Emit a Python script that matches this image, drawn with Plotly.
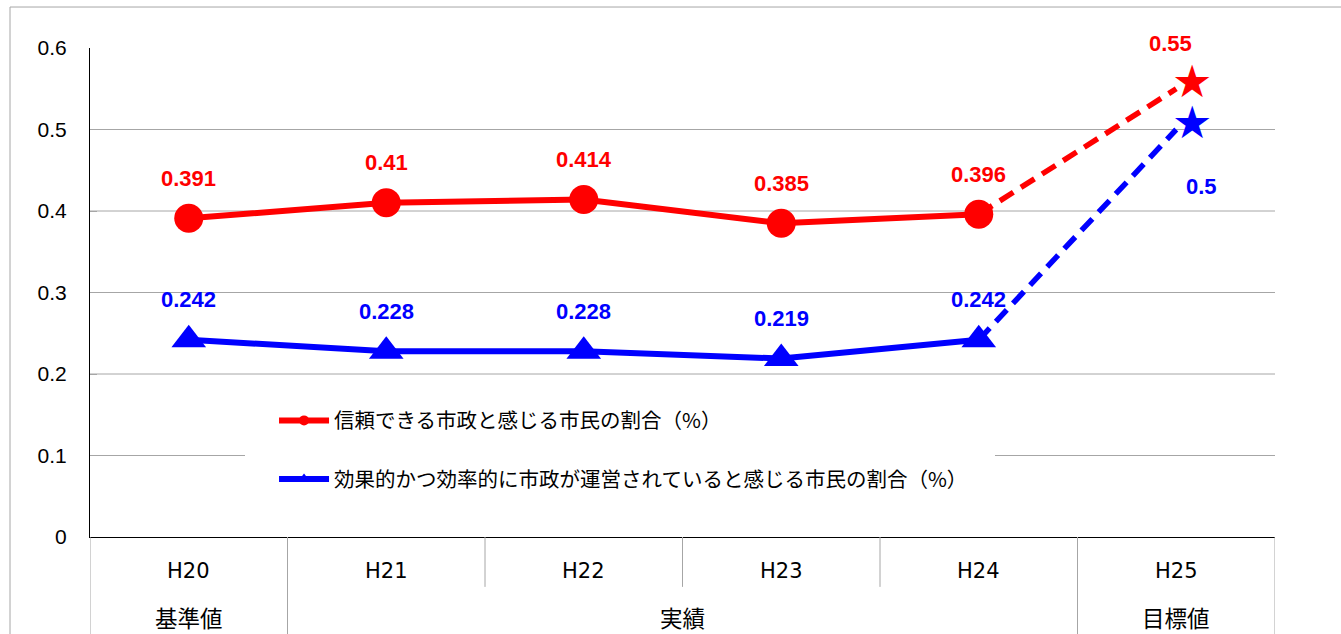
import plotly.graph_objects as go

# ---- data ----
years = ["H20", "H21", "H22", "H23", "H24", "H25"]
phase_labels = ["基準値", "実績", "目標値"]
phase_spans = [(0, 0), (1, 4), (5, 5)]
trust_name = "信頼できる市政と感じる市民の割合（%）"
trust_actual = [0.391, 0.41, 0.414, 0.385, 0.396]
trust_target = 0.55
eff_name = "効果的かつ効率的に市政が運営されていると感じる市民の割合（%）"
eff_actual = [0.242, 0.228, 0.228, 0.219, 0.242]
eff_target = 0.5
y_ticks = [0, 0.1, 0.2, 0.3, 0.4, 0.5, 0.6]

RED = "#FF0000"
BLUE = "#0000FF"
GRID = "#a6a6a6"
LAT = "Liberation Sans, Arial, sans-serif"
WIDE = "DejaVu Sans, sans-serif"
CJK = "Noto Sans CJK JP, sans-serif"

xi = list(range(len(years)))
n_act = len(trust_actual)

fig = go.Figure()

# dashed target segments (drawn first so the last circle/triangle sits on top)
for actual, target, color in [(eff_actual, eff_target, BLUE), (trust_actual, trust_target, RED)]:
    fig.add_trace(go.Scatter(
        x=[xi[n_act - 1], xi[n_act]], y=[actual[-1], target],
        mode="lines",
        line=dict(color=color, width=5.5, dash="16px,9px"),
        showlegend=False, hoverinfo="skip",
    ))

# actual values
fig.add_trace(go.Scatter(
    x=xi[:n_act], y=eff_actual, mode="lines+markers",
    line=dict(color=BLUE, width=6),
    marker=dict(symbol="triangle-up", size=30, color=BLUE, opacity=1),
    showlegend=False,
))
fig.add_trace(go.Scatter(
    x=xi[:n_act], y=trust_actual, mode="lines+markers",
    line=dict(color=RED, width=6),
    marker=dict(symbol="circle", size=29, color=RED, opacity=1),
    showlegend=False,
))

# legend entries
fig.add_trace(go.Scatter(
    x=[None], y=[None], mode="lines+markers", name=trust_name, legendgroup="a",
    line=dict(color=RED, width=6), marker=dict(symbol="circle", size=10, color=RED),
))
fig.add_trace(go.Scatter(
    x=[None], y=[None], mode="lines+markers", name=eff_name, legendgroup="b",
    line=dict(color=BLUE, width=6), marker=dict(symbol="triangle-up", size=11, color=BLUE),
))

annotations = []
# target star markers (drawn offset up-right of the value, as in the source chart)
for target, color in [(trust_target, RED), (eff_target, BLUE)]:
    annotations.append(dict(
        x=xi[n_act], y=target, xref="x", yref="y", text="★", showarrow=False,
        xanchor="center", yanchor="middle", xshift=16, yshift=8, height=40,
        font=dict(family="DejaVu Sans", size=45, color=color),
    ))
# data labels
for series, target, color, tshift in [
    (trust_actual, trust_target, RED, (-6, 45)),
    (eff_actual, eff_target, BLUE, (25, -57)),
]:
    vals = series + [target]
    for i, v in enumerate(vals):
        dx, dy = (tshift if i == n_act else (0, 40))
        annotations.append(dict(
            x=xi[i], y=v, xref="x", yref="y", text=f"{v:g}", showarrow=False,
            yanchor="middle", xshift=dx, yshift=dy,
            font=dict(family=LAT, size=22, color=color, weight="bold"),
        ))
# category labels
for i, yr in enumerate(years):
    annotations.append(dict(
        x=xi[i], y=0, xref="x", yref="paper", text=yr, showarrow=False,
        yanchor="middle", yshift=-34, font=dict(family=WIDE, size=21, color="black"),
    ))
for lab, (a, b) in zip(phase_labels, phase_spans):
    annotations.append(dict(
        x=(a + b) / 2, y=0, xref="x", yref="paper", text=lab, showarrow=False,
        yanchor="middle", yshift=-80, font=dict(family=CJK, size=22.5, color="black"),
    ))

shapes = []
# outer border
shapes.append(dict(type="rect", xref="paper", yref="paper", x0=-0.0675, x1=1.5,
                   y0=-0.5, y1=1.0838, line=dict(color=GRID, width=1), layer="below"))
# gridlines
for t in y_ticks[1:-1]:
    shapes.append(dict(type="line", xref="paper", yref="y", x0=0, x1=1, y0=t, y1=t,
                       line=dict(color=GRID, width=1), layer="below"))
# white legend backdrop
shapes.append(dict(type="rect", xref="paper", yref="paper", x0=0.1308, x1=0.7637,
                   y0=0.0757, y1=0.2945, fillcolor="white", line=dict(width=0),
                   layer="below"))
# category separators below axis
for k in range(len(years) + 1):
    xb = k - 0.5
    full = k in (0, 1, len(years) - 1, len(years))
    shapes.append(dict(type="line", xref="x", yref="paper", x0=xb, x1=xb,
                       y0=0, y1=(-0.2 if full else -0.102),
                       line=dict(color=GRID, width=1)))

fig.update_layout(
    width=1341, height=634,
    margin=dict(l=90, r=66, t=48, b=97),
    paper_bgcolor="white", plot_bgcolor="white",
    xaxis=dict(range=[-0.5, len(years) - 0.5], showgrid=False, zeroline=False,
               showticklabels=False, ticks="", showline=True, linecolor="black",
               linewidth=1, fixedrange=True),
    yaxis=dict(range=[0, 0.6], tickvals=y_ticks, ticktext=[f"{t:g}" for t in y_ticks],
               showgrid=False, zeroline=False, showline=True, linecolor="black",
               linewidth=1, ticks="inside", ticklen=7, tickcolor=GRID,
               ticklabelstandoff=18, tickfont=dict(family=LAT, size=21, color="black"),
               fixedrange=True),
    legend=dict(x=0.1553, y=0.279, xanchor="left", yanchor="top",
                bgcolor="rgba(0,0,0,0)", tracegroupgap=29, itemwidth=50,
                font=dict(family=CJK, size=20.5, color="black")),
    annotations=annotations,
    shapes=shapes,
    showlegend=True,
)

fig.write_html(
    "out.html",
    config={"displayModeBar": False},
    post_script="document.body.style.margin='0px';document.body.style.overflow='hidden';",
)
